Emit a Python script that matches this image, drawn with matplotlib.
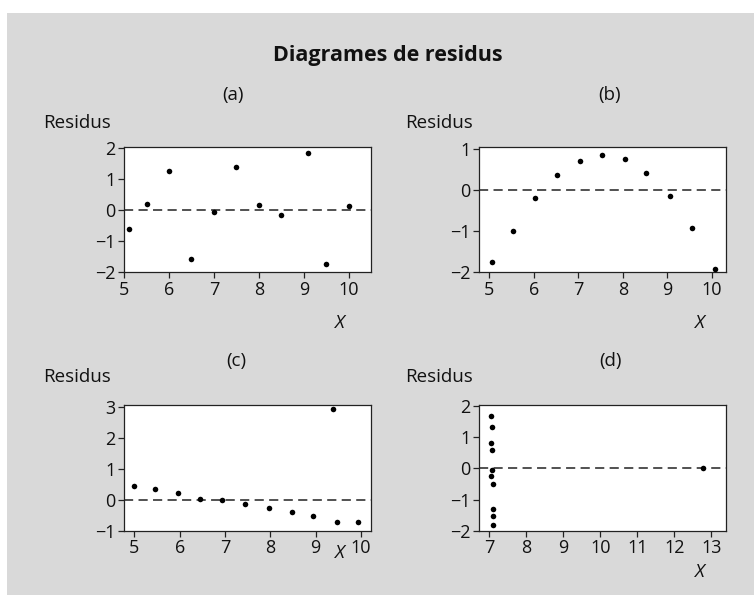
import matplotlib
matplotlib.use("Agg")
import matplotlib.pyplot as plt

plt.rcParams['font.family'] = ['Open Sans', 'DejaVu Sans']

# residuals for the four example fits
x_a = [5.11, 5.51, 5.99, 6.50, 6.99, 7.50, 8.00, 8.49, 9.10, 9.50, 9.99]
res_a = [-0.59, 0.21, 1.28, -1.58, -0.07, 1.39, 0.16, -0.15, 1.85, -1.73, 0.13]

x_b = [5.07, 5.54, 6.03, 6.52, 7.03, 7.52, 8.05, 8.52, 9.05, 9.56, 10.07]
res_b = [-1.75, -0.98, -0.19, 0.37, 0.72, 0.87, 0.76, 0.42, -0.15, -0.93, -1.91]

x_c = [4.98, 5.45, 5.96, 6.44, 6.94, 7.44, 7.96, 8.47, 8.93, 9.38, 9.47, 9.93]
res_c = [0.44, 0.33, 0.23, 0.02, -0.02, -0.15, -0.27, -0.40, -0.51, 2.92, -0.73, -0.71]

x_d = [7.05, 7.08, 7.03, 7.06, 7.08, 7.03, 7.10, 7.09, 7.10, 7.09, 12.78]
res_d = [1.69, 1.34, 0.82, 0.59, -0.05, -0.23, -0.49, -1.31, -1.52, -1.83, 0.0]

W, H = 754, 595
fig = plt.figure(figsize=(W / 100, H / 100), dpi=100)
fig.patch.set_facecolor('white')

# grey panel behind the charts
bg = fig.add_axes([7 / W, 0, 1 - 7 / W, 1 - 13 / H])
bg.set_facecolor('#d9d9d9')
bg.set_xticks([])
bg.set_yticks([])
for s in bg.spines.values():
    s.set_visible(False)


def px_axes(left, top, right, bottom):
    return fig.add_axes([left / W, 1 - bottom / H, (right - left) / W, (bottom - top) / H])


def txt(x, y, s, **kw):
    fig.text(x / W, 1 - y / H, s, **kw)


panels = [
    dict(box=(124, 146.7, 371, 272.3), x=x_a, y=res_a, xlim=(5.0, 10.49), ylim=(-2, 2.05),
         xt=[5, 6, 7, 8, 9, 10], yt=[-2, -1, 0, 1, 2]),
    dict(box=(478.7, 146.7, 725.7, 272.3), x=x_b, y=res_b, xlim=(4.76, 10.31), ylim=(-2, 1.065),
         xt=[5, 6, 7, 8, 9, 10], yt=[-2, -1, 0, 1]),
    dict(box=(124, 404.7, 371, 530.7), x=x_c, y=res_c, xlim=(4.77, 10.22), ylim=(-1, 3.065),
         xt=[5, 6, 7, 8, 9, 10], yt=[-1, 0, 1, 2, 3]),
    dict(box=(478.7, 404.7, 725.7, 530.7), x=x_d, y=res_d, xlim=(6.71, 13.39), ylim=(-2, 2.05),
         xt=[7, 8, 9, 10, 11, 12, 13], yt=[-2, -1, 0, 1, 2]),
]

for p in panels:
    ax = px_axes(*p['box'])
    ax.set_facecolor('white')
    ax.axhline(0, color='#222222', lw=1.1, ls=(0, (6, 3.5)), zorder=1)
    ax.scatter(p['x'], p['y'], s=16, color='black', zorder=3, linewidths=0)
    ax.set_xlim(*p['xlim'])
    ax.set_ylim(*p['ylim'])
    ax.set_xticks(p['xt'])
    ax.set_yticks(p['yt'])
    ax.tick_params(direction='out', length=4.5, width=0.9, color='#222222',
                   labelsize=13, pad=1.5, labelcolor='#111111')
    for s in ax.spines.values():
        s.set_linewidth(0.9)
        s.set_color('#222222')

txt(388, 61, 'Diagrames de residus', ha='center', va='baseline',
    fontsize=15.5, fontweight='bold', color='#111111')

# panel letters, y-axis captions and x captions
for s, x, y in [('(a)', 232.7, 95), ('(b)', 610, 95), ('(c)', 236, 361), ('(d)', 610, 361)]:
    txt(x, y, s, ha='center', va='center', fontsize=13.5, color='#111111')
for x, y in [(43, 128), (405, 128), (43, 381.7), (405, 381.7)]:
    txt(x, y, 'Residus', ha='left', va='baseline', fontsize=13.5, color='#111111')
for x, y in [(340, 328), (700, 328), (340, 558), (700, 576.7)]:
    txt(x, y, 'X', ha='center', va='baseline', fontsize=13.5, style='italic', color='#111111')

fig.savefig('out.png', dpi=100)
